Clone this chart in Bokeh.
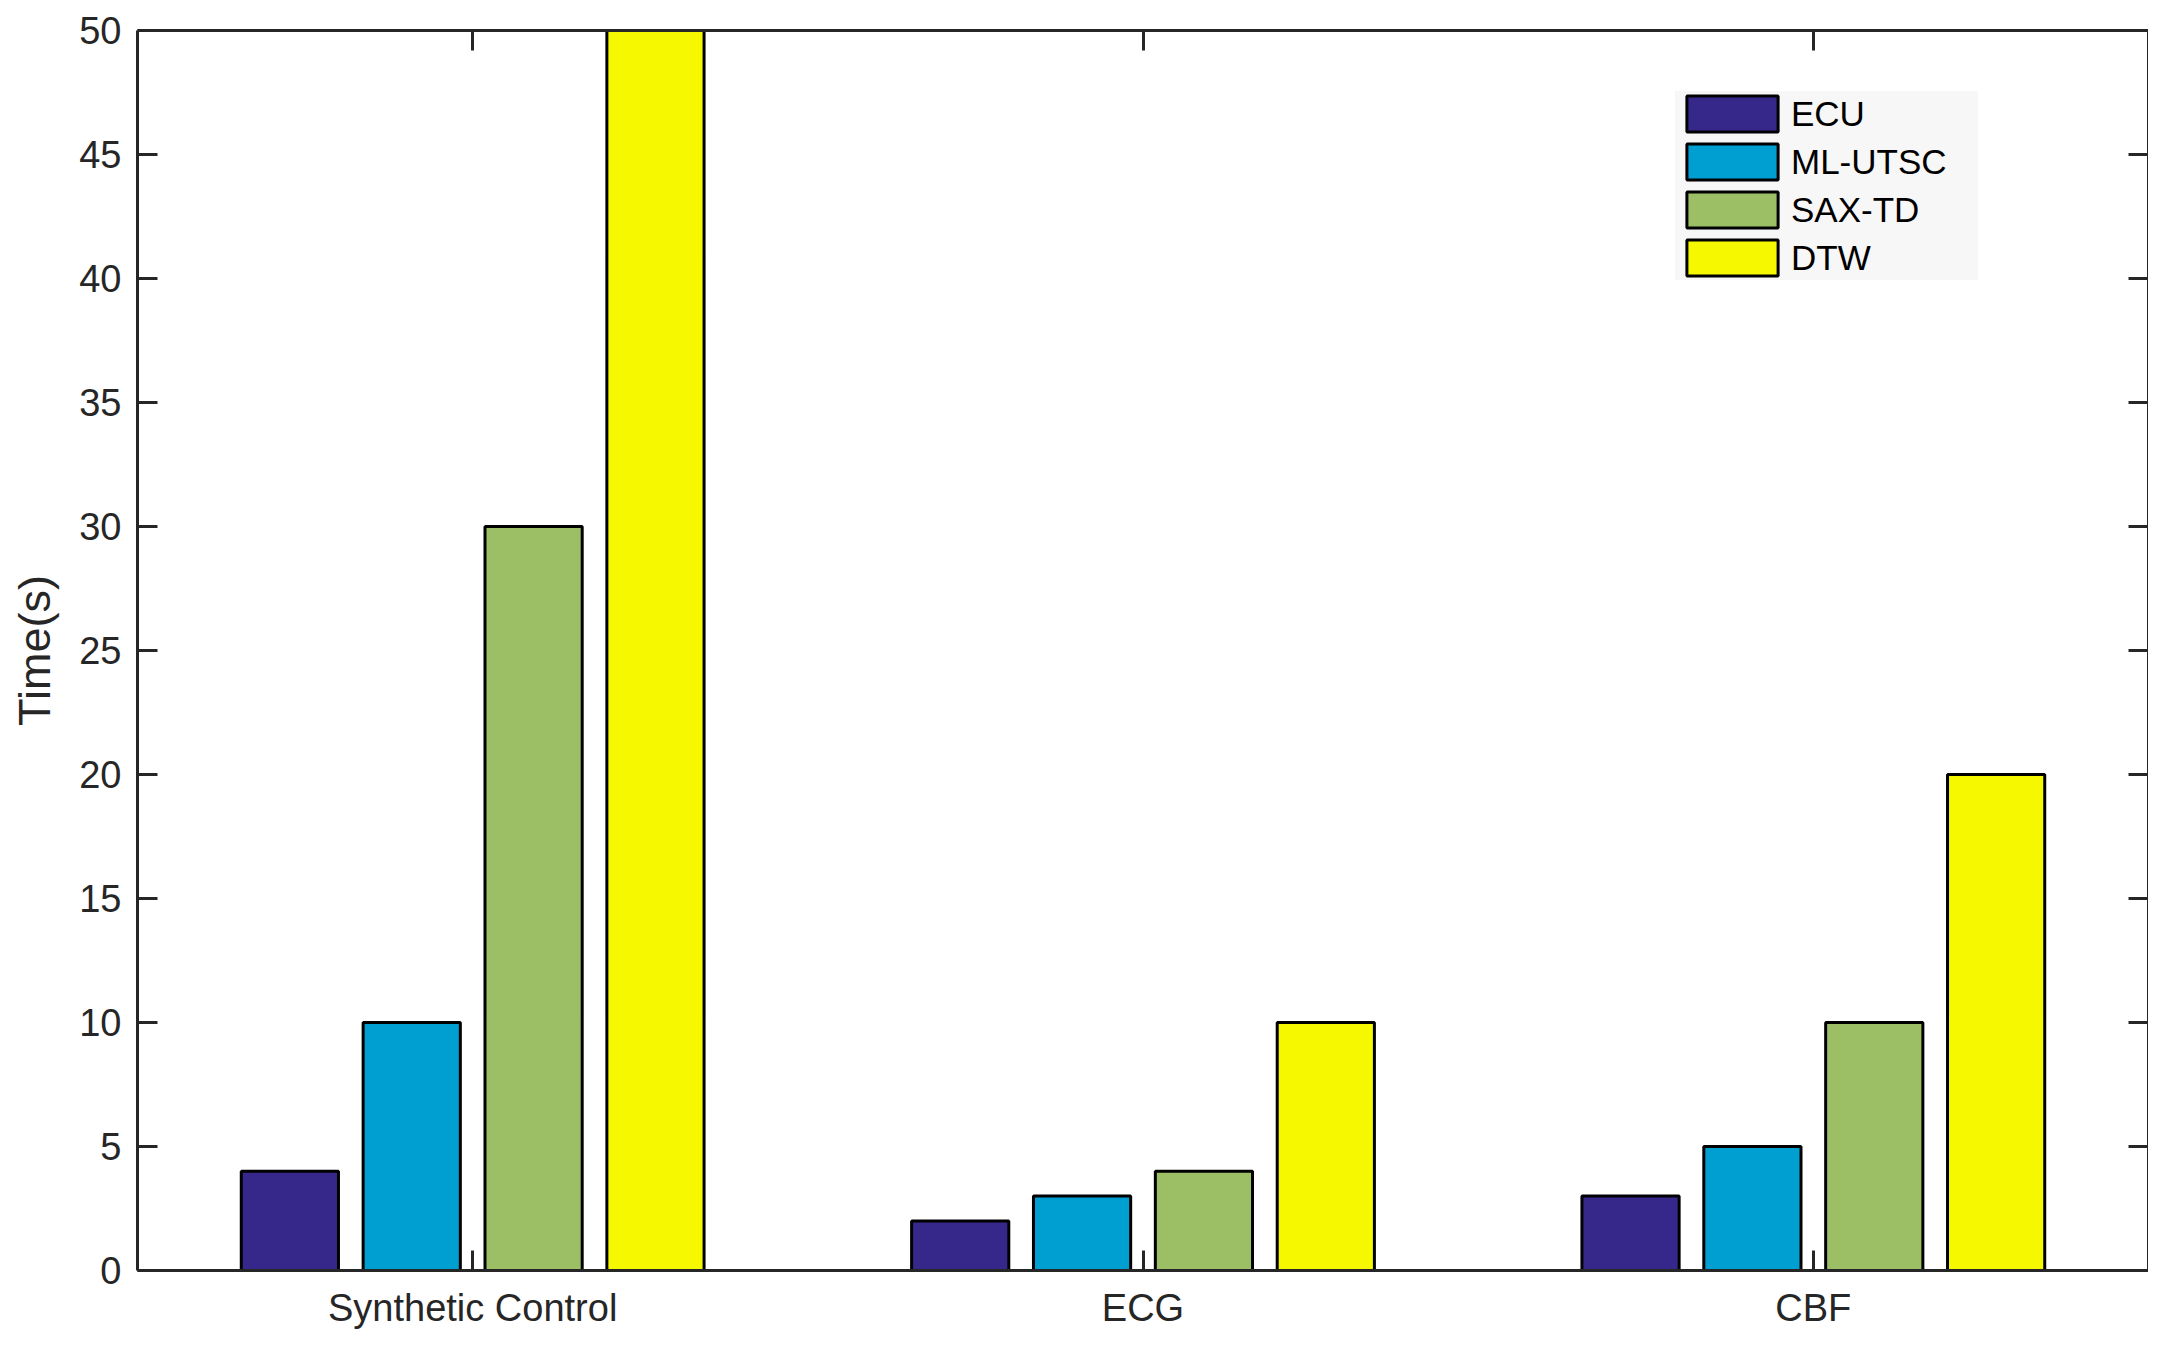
from bokeh.plotting import figure
from bokeh.models import (FactorRange, Range1d, LinearAxis, CategoricalAxis, Legend,
                          LegendItem, FixedTicker, ColumnDataSource)
from bokeh.transform import dodge
from bokeh.embed import file_html
from bokeh.resources import INLINE

categories = ["Synthetic Control", "ECG", "CBF"]
series_names = ["ECU", "ML-UTSC", "SAX-TD", "DTW"]
ecu = [4, 2, 3]
ml_utsc = [10, 3, 5]
sax_td = [30, 4, 10]
dtw = [50, 10, 20]
y_ticks = [0, 5, 10, 15, 20, 25, 30, 35, 40, 45, 50]
colors = ["#36288a", "#009fd2", "#9cbf65", "#f6f800"]

FONT = "Liberation Sans"
AX = "#262626"

source = ColumnDataSource(dict(cat=categories, ECU=ecu, ML=ml_utsc, SAX=sax_td, DTW=dtw))
cols = ["ECU", "ML", "SAX", "DTW"]

p = figure(x_range=FactorRange(*categories, range_padding=0, factor_padding=0),
           y_range=Range1d(0, 50),
           frame_width=2011, frame_height=1240,
           min_border_left=137, min_border_top=30, min_border_right=0, min_border_bottom=62,
           output_backend="svg", toolbar_location=None)
p.outline_line_color = None
p.xgrid.grid_line_color = None
p.ygrid.grid_line_color = None
p.background_fill_color = "white"

offsets = [-0.2727, -0.0909, 0.0909, 0.2727]
renderers = []
for col, off, c in zip(cols, offsets, colors):
    r = p.vbar(x=dodge("cat", off, range=p.x_range), top=col, width=0.145, bottom=0,
               source=source, fill_color=c, line_color="black", line_width=3)
    renderers.append(r)

# bottom axis
xa = p.xaxis[0]
xa.major_label_text_font = FONT
xa.major_label_text_font_size = "38px"
xa.major_label_text_color = AX
xa.major_tick_in = 20
xa.major_tick_out = 0
xa.major_tick_line_color = AX
xa.major_tick_line_width = 3
xa.axis_line_color = AX
xa.axis_line_width = 3
xa.major_label_standoff = 16
xa.minor_tick_line_color = None

# left axis
ya = p.yaxis[0]
ya.ticker = FixedTicker(ticks=y_ticks)
ya.axis_label = "Time(s)"
ya.axis_label_text_font = FONT
ya.axis_label_text_font_size = "45px"
ya.axis_label_text_font_style = "normal"
ya.axis_label_text_color = AX
ya.axis_label_standoff = 16
ya.major_label_text_font = FONT
ya.major_label_text_font_size = "38px"
ya.major_label_text_color = AX
ya.major_label_standoff = 16
ya.major_tick_in = 20
ya.major_tick_out = 0
ya.major_tick_line_color = AX
ya.major_tick_line_width = 3
ya.minor_tick_line_color = None
ya.axis_line_color = AX
ya.axis_line_width = 3

# top axis (ticks only)
top = CategoricalAxis(major_label_text_font_size="1px", major_label_text_color=None,
                      major_label_standoff=0,
                      major_tick_in=20, major_tick_out=0, major_tick_line_color=AX,
                      major_tick_line_width=3, axis_line_color=AX, axis_line_width=3,
                      minor_tick_line_color=None)
p.add_layout(top, "above")

# right axis (ticks only)
right = LinearAxis(ticker=FixedTicker(ticks=y_ticks), major_label_text_font_size="1px",
                   major_label_text_color=None,
                   major_label_standoff=0, major_tick_in=20, major_tick_out=0,
                   major_tick_line_color=AX, major_tick_line_width=3,
                   axis_line_color=AX, axis_line_width=3, minor_tick_line_color=None)
p.add_layout(right, "right")

legend = Legend(items=[LegendItem(label=n, renderers=[r]) for n, r in zip(series_names, renderers)],
                location=(1538, 990),
                background_fill_color="#f7f7f7", background_fill_alpha=1,
                border_line_color=None,
                label_text_font=FONT, label_text_font_size="35px", label_text_color="black",
                glyph_width=114, glyph_height=45, label_height=36, spacing=3,
                padding=12, label_standoff=2, label_width=187, margin=0)
p.add_layout(legend)

open("out.html", "w").write(file_html(p, INLINE))
